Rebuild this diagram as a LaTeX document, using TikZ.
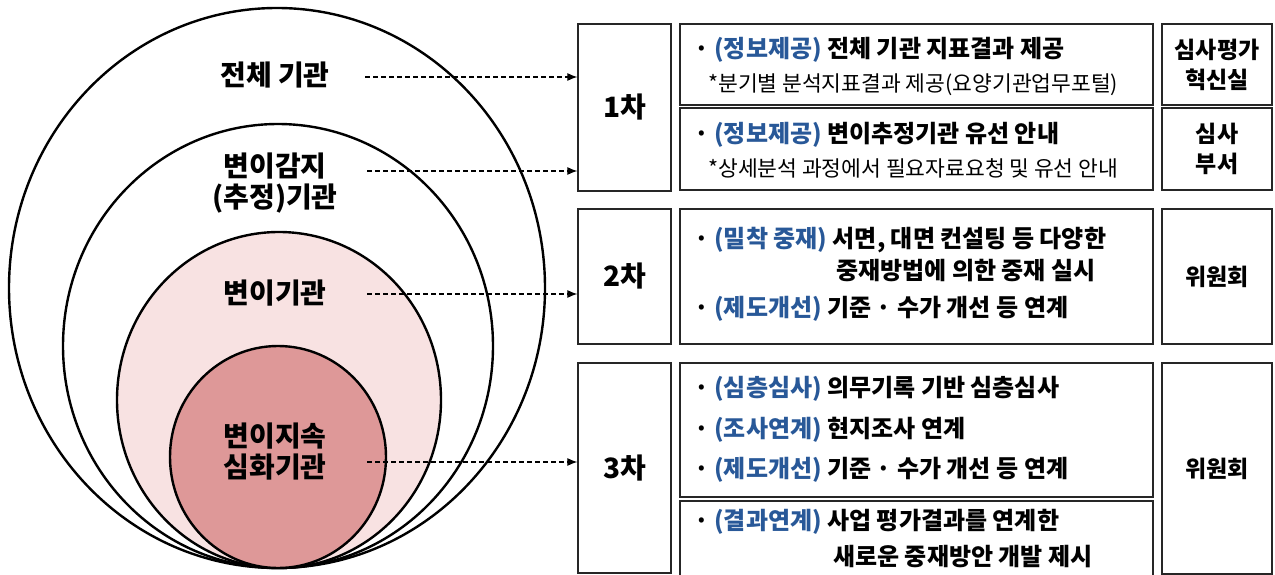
\documentclass[tikz,border=0pt]{standalone}
\usepackage{fontspec}
\setmainfont{Noto Sans CJK KR}
\usetikzlibrary{arrows.meta}
\definecolor{tagblue}{RGB}{40,88,152}
\definecolor{pinklight}{RGB}{248,226,226}
\definecolor{pinkdark}{RGB}{222,152,152}
\newcommand{\tagb}[1]{\textcolor{tagblue}{#1}}

\begin{document}
\begin{tikzpicture}[x=1pt,y=-1pt,
    ring/.style={draw=black,line width=2.4pt},
    stagebox/.style={draw=black!85,line width=1.3pt,inner sep=0pt},
    big/.style={font=\fontsize{28}{31}\selectfont\bfseries,align=center,inner sep=0pt},
    side/.style={font=\fontsize{23}{30}\selectfont\bfseries,align=center,inner sep=0pt},
    line/.style={anchor=west,font=\fontsize{24}{26}\selectfont\bfseries,inner sep=0pt},
    note/.style={anchor=west,font=\fontsize{21.5}{23}\selectfont,inner sep=0pt},
    link/.style={dash pattern=on 5pt off 3pt,-{Latex[length=10pt,width=8pt]},line width=1.1pt}]
    \useasboundingbox (0,0) rectangle (1275,575);

    % nested rings, all touching at the bottom
    \draw[ring,fill=white] (277,288) ellipse [x radius=268pt, y radius=280pt];
    \draw[ring,fill=white] (278,346) ellipse [x radius=215pt, y radius=222pt];
    \draw[ring,fill=pinklight] (279,400) ellipse [x radius=162pt, y radius=168pt];
    \draw[ring,fill=pinkdark] (278,457) ellipse [x radius=108pt, y radius=111pt];

    \node[big] (all) at (275,75) {전체 기관};
    \node[big] (detect) at (275,183) {변이감지\\(추정)기관};
    \node[big] (vary) at (275,293) {변이기관};
    \node[big] (deep) at (275,451) {변이지속\\심화기관};

    % stage boxes
    \node[stagebox,minimum width=93pt,minimum height=167pt] (s1) at (624.5,107.5) {};
    \node[stagebox,minimum width=93pt,minimum height=135pt] (s2) at (624.5,276.5) {};
    \node[stagebox,minimum width=93pt,minimum height=210pt] (s3) at (624.5,468) {};
    \node[big] (s1t) at (s1) {1차};
    \node[big] (s2t) at (s2) {2차};
    \node[big] (s3t) at (s3) {3차};

    % content boxes
    \node[stagebox,minimum width=473pt,minimum height=81pt] (m1a) at (916.5,64.5) {};
    \node[stagebox,minimum width=473pt,minimum height=82pt] (m1b) at (916.5,149) {};
    \node[stagebox,minimum width=473pt,minimum height=135pt] (m2) at (916.5,276.5) {};
    \node[stagebox,minimum width=473pt,minimum height=134pt] (m3a) at (916.5,430) {};
    \node[stagebox,minimum width=473pt,minimum height=78pt] (m3b) at (916.5,540) {};

    % who is in charge
    \node[stagebox,minimum width=110pt,minimum height=81pt] (r1a) at (1217,64.5) {};
    \node[stagebox,minimum width=110pt,minimum height=82pt] (r1b) at (1217,149) {};
    \node[stagebox,minimum width=110pt,minimum height=135pt] (r2) at (1217,276.5) {};
    \node[stagebox,minimum width=110pt,minimum height=211pt] (r3) at (1217,468.5) {};
    \node[side] (r1at) at (r1a) {심사평가\\혁신실};
    \node[side] (r1bt) at (r1b) {심사\\부서};
    \node[side] (r2t) at (r2) {위원회};
    \node[side] (r3t) at (r3) {위원회};

    % box texts
    \node[line] (t1) at (694,50) {· \tagb{(정보제공)} 전체 기관 지표결과 제공};
    \node[note] (t1n) at (708,85) {*분기별 분석지표결과 제공(요양기관업무포털)};
    \node[line] (t2) at (694,135) {· \tagb{(정보제공)} 변이추정기관 유선 안내};
    \node[note] (t2n) at (708,168) {*상세분석 과정에서 필요자료요청 및 유선 안내};
    \node[line] (t3) at (694,240) {· \tagb{(밀착 중재)} 서면, 대면 컨설팅 등 다양한};
    \node[line] (t3b) at (836,271) {중재방법에 의한 중재 실시};
    \node[line] (t4) at (694,309) {· \tagb{(제도개선)} 기준 · 수가 개선 등 연계};
    \node[line] (t5) at (694,389) {· \tagb{(심층심사)} 의무기록 기반 심층심사};
    \node[line] (t6) at (694,430) {· \tagb{(조사연계)} 현지조사 연계};
    \node[line] (t7) at (694,470) {· \tagb{(제도개선)} 기준 · 수가 개선 등 연계};
    \node[line] (t8) at (694,522) {· \tagb{(결과연계)} 사업 평가결과를 연계한};
    \node[line] (t8b) at (833,557) {새로운 중재방안 개발 제시};

    % dashed links
    \coordinate (a1) at (365,77);
    \coordinate (a2) at (367,171);
    \coordinate (a3) at (367,294);
    \coordinate (a4) at (367,462);
    \draw[link] (a1) -- (a1 -| s1.west);
    \draw[link] (a2) -- (a2 -| s1.west);
    \draw[link] (a3) -- (a3 -| s2.west);
    \draw[link] (a4) -- (a4 -| s3.west);
\end{tikzpicture}
\end{document}
